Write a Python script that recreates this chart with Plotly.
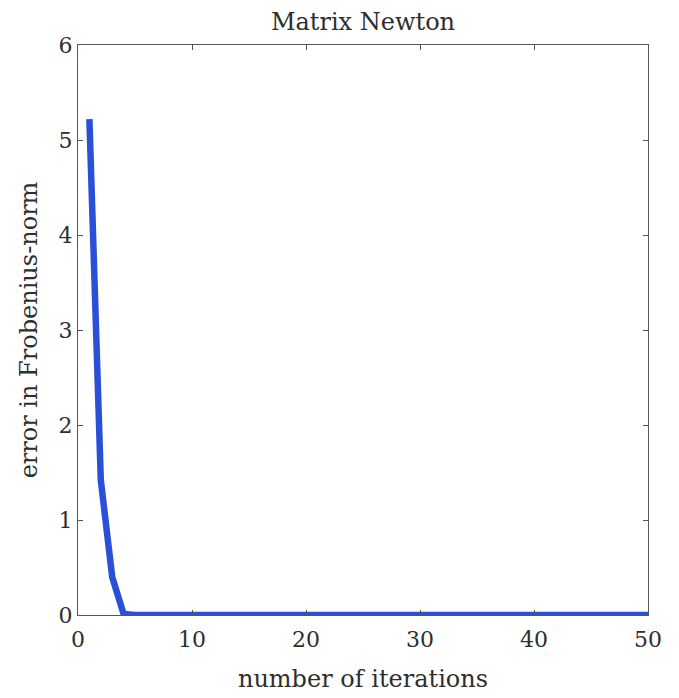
import plotly.graph_objects as go

iterations = list(range(1, 51))
error_frob = [5.22, 1.42, 0.40, 0.01, 0.0, 0.0, 0.0, 0.0, 0.0, 0.0,
              0.0, 0.0, 0.0, 0.0, 0.0, 0.0, 0.0, 0.0, 0.0, 0.0,
              0.0, 0.0, 0.0, 0.0, 0.0, 0.0, 0.0, 0.0, 0.0, 0.0,
              0.0, 0.0, 0.0, 0.0, 0.0, 0.0, 0.0, 0.0, 0.0, 0.0,
              0.0, 0.0, 0.0, 0.0, 0.0, 0.0, 0.0, 0.0, 0.0, 0.0]
x_ticks = [0, 10, 20, 30, 40, 50]
y_ticks = [0, 1, 2, 3, 4, 5, 6]

FONT = "DejaVu Serif"
TXT = "#2e2e2e"
fig = go.Figure()
fig.add_trace(go.Scatter(x=iterations, y=error_frob, mode="lines",
                         line=dict(color="#2a50d8", width=6.5),
                         cliponaxis=False, showlegend=False))

axis_common = dict(showline=True, linecolor="#555555", linewidth=1,
                   mirror="ticks", ticks="inside", ticklen=5, tickcolor="#555555",
                   showgrid=False, zeroline=False,
                   tickfont=dict(family=FONT, size=22, color=TXT))

fig.update_layout(
    width=671, height=690,
    margin=dict(l=70, r=31, t=37, b=83),
    paper_bgcolor="white", plot_bgcolor="white",
    title=dict(text="Matrix Newton", x=0.5, xref="paper", xanchor="center",
               y=0.980, yanchor="middle",
               font=dict(family=FONT, size=24, color=TXT)),
    xaxis=dict(range=[0, 50], tickvals=x_ticks, ticklabelstandoff=5,
               title=dict(text="number of iterations", standoff=18,
                          font=dict(family=FONT, size=24, color=TXT)),
               **axis_common),
    yaxis=dict(range=[0, 6], tickvals=y_ticks,
               title=dict(text="error in Frobenius-norm", standoff=14,
                          font=dict(family=FONT, size=24, color=TXT)),
               **axis_common),
)
fig.write_html("out.html")
